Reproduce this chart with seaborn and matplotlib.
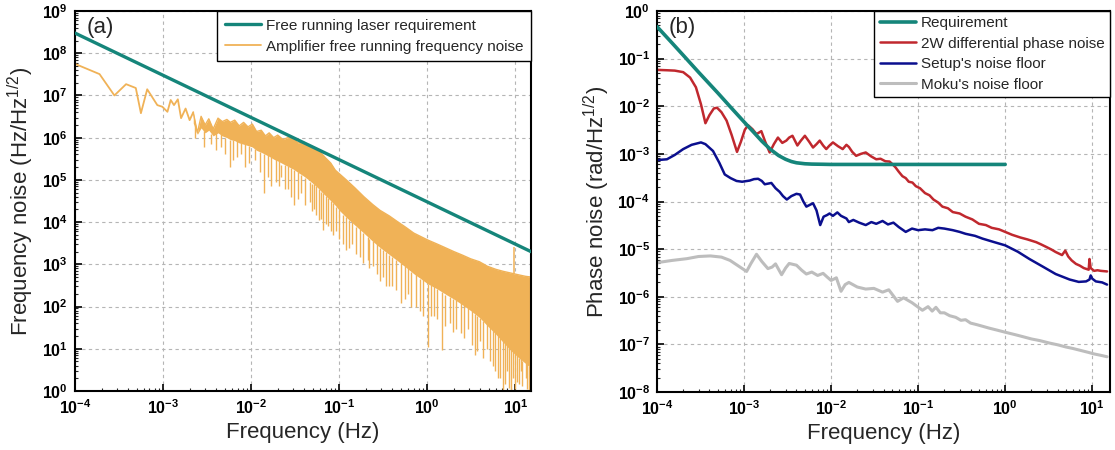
import numpy as np
import pandas as pd
import matplotlib
matplotlib.use("Agg")
import matplotlib.pyplot as plt
import seaborn as sns
from matplotlib.ticker import LogLocator, FuncFormatter, NullFormatter

# ---------------- data ----------------
# panel (a): free running laser requirement
req_a_f = [1e-4, 15.0]
req_a_v = [3.0e8, 2.0e3]

# panel (a): amplifier frequency noise, low-frequency part (single trace)
amp_low_f = [1.0e-4, 1.9e-4, 2.8e-4, 3.8e-4, 4.9e-4, 5.6e-4, 6.6e-4, 8.6e-4, 9.8e-4,
             1.12e-3, 1.22e-3, 1.33e-3, 1.47e-3, 1.6e-3, 1.8e-3, 2.0e-3, 2.2e-3]
amp_low_v = [5.6e7, 3.2e7, 1.0e7, 1.85e7, 1.5e7, 3.8e6, 1.4e7, 5.9e6, 5.4e6,
             4.1e6, 7.8e6, 5.9e6, 8.1e6, 2.9e6, 4.9e6, 2.6e6, 4.0e6]

# panel (a): dense part of the amplifier noise (upper edge / lower edge of the band)
amp_band_f = [2.2e-3, 2.45e-3, 2.7e-3, 3.0e-3, 3.3e-3, 3.7e-3, 4.2e-3, 4.7e-3, 5.3e-3, 5.8e-3,
              6.5e-3, 7.3e-3, 8.2e-3, 9.2e-3, 1.03e-2, 1.15e-2, 1.3e-2, 1.45e-2, 1.6e-2, 1.8e-2,
              2.0e-2, 2.3e-2, 2.6e-2, 3.0e-2, 3.4e-2, 3.9e-2, 4.5e-2, 5.1e-2, 5.7e-2, 6.3e-2,
              7.0e-2, 8.0e-2, 9.0e-2, 0.1, 0.12, 0.15, 0.19, 0.24, 0.29, 0.37,
              0.45, 0.57, 0.7, 0.85, 1.0, 1.3, 1.65, 2.0, 2.5, 3.1,
              3.9, 4.8, 6.0, 7.3, 8.9, 11.0, 13.0, 15.0]
amp_band_hi = [4.0e6, 1.3e6, 3.2e6, 2.0e6, 2.8e6, 1.6e6, 2.9e6, 2.4e6, 2.7e6, 2.3e6,
               2.6e6, 1.9e6, 2.3e6, 1.8e6, 2.1e6, 1.4e6, 1.5e6, 1.1e6, 1.3e6, 1.0e6,
               1.15e6, 9.0e5, 1.0e6, 9.5e5, 7.5e5, 8.0e5, 6.2e5, 6.0e5, 5.0e5, 4.2e5,
               3.3e5, 2.5e5, 1.7e5, 1.4e5, 1.0e5, 6.5e4, 4.0e4, 2.6e4, 1.9e4, 1.4e4,
               1.05e4, 7.5e3, 5.5e3, 4.5e3, 3.8e3, 3.0e3, 2.4e3, 2.0e3, 1.65e3, 1.35e3,
               1.15e3, 9.0e2, 7.6e2, 6.8e2, 6.2e2, 5.6e2, 5.2e2, 5.0e2]
amp_band_lo = [2.2e6, 1.2e6, 1.7e6, 1.3e6, 1.5e6, 1.1e6, 1.3e6, 1.1e6, 1.0e6, 9.0e5,
               8.5e5, 7.5e5, 7.0e5, 6.5e5, 6.0e5, 5.0e5, 4.5e5, 4.0e5, 3.6e5, 3.1e5,
               2.8e5, 2.4e5, 2.1e5, 1.8e5, 1.5e5, 1.25e5, 1.0e5, 8.0e4, 6.5e4, 5.2e4,
               4.2e4, 3.2e4, 2.5e4, 1.9e4, 1.3e4, 8.5e3, 5.5e3, 3.5e3, 2.5e3, 1.7e3,
               1.25e3, 8.5e2, 6.0e2, 4.5e2, 3.5e2, 2.6e2, 1.9e2, 1.5e2, 1.1e2, 80,
               55, 35, 22, 14, 9, 6, 4.5, 3.5]

# panel (a): downward spikes of the amplifier noise (frequency, spike start, spike bottom)
spike_f = [4.5e-3, 5.8e-3, 7.6e-3, 1.1e-2, 1.4e-2, 1.7e-2, 2.2e-2, 2.6e-2, 3.1e-2, 3.7e-2,
           4.6e-2, 5.2e-2, 5.9e-2, 6.6e-2, 7.5e-2, 8.5e-2, 0.1, 0.12, 0.14, 0.17,
           0.21, 0.24, 0.29, 0.34, 0.4, 0.5, 0.6, 0.75, 0.9, 1.02,
           1.2, 1.45, 1.8, 2.1, 2.4, 2.9, 3.5, 4.0, 4.7, 5.5,
           6.3, 7.2, 8.0, 9.0, 10.5, 11.5, 13.0, 14.5,
           2.3e-3, 2.9e-3, 3.5e-3, 4.0e-3, 5.0e-3, 6.2e-3, 6.9e-3, 8.5e-3, 9.5e-3, 1.25e-2,
           1.55e-2, 1.9e-2, 2.05e-2, 2.4e-2, 2.8e-2, 3.4e-2, 4.1e-2, 4.9e-2, 5.5e-2, 6.2e-2,
           7.0e-2, 8.0e-2, 9.2e-2, 0.11, 0.13, 0.155, 0.185, 0.22, 0.265, 0.31,
           0.37, 0.44, 0.55, 0.66, 0.83, 1.1, 1.3, 1.6, 1.95, 2.6,
           3.2, 3.7, 4.3, 5.1, 5.9, 6.7, 7.6, 8.5, 9.3, 10.0,
           11.0, 12.0, 13.5, 14.2]
spike_top = [1.2e6, 9e5, 7.5e5, 5.5e5, 4e5, 3.4e5, 2.3e5, 2.1e5, 1.7e5, 1.3e5,
             9e4, 8e4, 6e4, 5e4, 3.8e4, 2.8e4, 1.9e4, 1.3e4, 1e4, 7e3,
             4.5e3, 3.5e3, 2.5e3, 2e3, 1.5e3, 1.1e3, 8e2, 6e2, 4.5e2, 3.5e2,
             3e2, 2.2e2, 1.7e2, 1.4e2, 1.2e2, 90, 65, 55, 40, 30,
             24, 16, 12, 10, 7, 6, 4.5, 3.5,
             2e6, 1.4e6, 1.2e6, 1.3e6, 1.0e6, 9e5, 8.5e5, 7e5, 6.5e5, 4.5e5,
             3.8e5, 3.1e5, 2.8e5, 2.3e5, 1.9e5, 1.5e5, 1.1e5, 8e4, 7e4, 5.2e4,
             4.2e4, 3.2e4, 2.3e4, 1.5e4, 1.1e4, 7.5e3, 5.5e3, 4e3, 3e3, 2.2e3,
             1.7e3, 1.3e3, 9e2, 6.5e2, 4.5e2, 3.2e2, 2.6e2, 1.9e2, 1.5e2, 1.1e2,
             80, 60, 45, 35, 25, 18, 14, 11, 9, 8,
             6, 5, 4.5, 4]
spike_min = [6e5, 2e5, 4e5, 3e5, 4.8e4, 7e4, 1.2e5, 6e4, 2.6e4, 5e4,
             3e4, 2e4, 1.1e4, 6.5e3, 8e3, 5e3, 4e3, 2.2e3, 3e3, 1.5e3,
             1.3e3, 9e2, 4e2, 3e2, 3e2, 1.2e2, 2e2, 1e2, 60, 11,
             60, 9.4, 40, 30, 24, 30, 7, 15, 10, 4,
             2, 1, 3, 1, 1.6, 3, 2, 1,
             1.0e6, 6e5, 7e5, 5e5, 4e5, 3e5, 3.5e5, 2e5, 2.5e5, 1.5e5,
             1.2e5, 9e4, 7e4, 6e4, 4e4, 3.5e4, 2.5e4, 1.8e4, 1.5e4, 1.2e4,
             9e3, 6e3, 6e3, 3e3, 2.5e3, 1.8e3, 1.1e3, 8e2, 6e2, 5e2,
             3e2, 2.5e2, 1.5e2, 1e2, 80, 60, 50, 35, 25, 18,
             12, 9, 6, 5, 3, 2, 1.5, 1.2, 2, 1.1,
             1.5, 1.3, 1.1, 1.0]
spike_up_f = [9.6]
spike_up_lo = [6.0e2]
spike_up_hi = [2.6e3]

# panel (b): requirement
req_b_f = [1e-4, 1.5e-4, 2e-4, 3e-4, 5e-4, 7e-4, 1e-3, 1.3e-3, 1.6e-3, 2e-3, 2.5e-3,
           3e-3, 3.5e-3, 4e-3, 5e-3, 6e-3, 8e-3, 1e-2, 1.0]
req_b_v = [0.47, 0.21, 0.118, 0.052, 0.019, 9.6e-3, 4.7e-3, 2.8e-3, 1.85e-3, 1.25e-3, 9.2e-4,
           7.7e-4, 6.9e-4, 6.5e-4, 6.2e-4, 6.1e-4, 6.05e-4, 6.0e-4, 6.0e-4]

# panel (b): 2W differential phase noise
red_f = [1e-4, 1.3e-4, 1.6e-4, 2.0e-4, 2.4e-4, 2.8e-4, 3.2e-4, 3.6e-4, 4.0e-4, 4.5e-4,
         4.9e-4, 5.5e-4, 6.3e-4, 7.2e-4, 8.3e-4, 9.2e-4, 1.02e-3, 1.11e-3, 1.25e-3, 1.39e-3,
         1.58e-3, 1.75e-3, 1.97e-3, 2.2e-3, 2.45e-3, 2.75e-3, 3.06e-3, 3.3e-3, 3.6e-3, 4.1e-3,
         4.5e-3, 5.0e-3, 5.6e-3, 6.2e-3, 6.8e-3, 7.4e-3, 8.1e-3, 8.8e-3, 9.6e-3, 1.05e-2,
         1.2e-2, 1.36e-2, 1.5e-2, 1.6e-2, 1.75e-2, 1.94e-2, 2.2e-2, 2.5e-2, 2.9e-2, 3.3e-2,
         3.7e-2, 4.2e-2, 4.7e-2, 5.1e-2, 5.5e-2, 6.0e-2, 6.6e-2, 7.2e-2, 7.8e-2, 8.6e-2,
         9.4e-2, 0.105, 0.12, 0.135, 0.15, 0.17, 0.19, 0.22, 0.25, 0.3,
         0.35, 0.42, 0.5, 0.6, 0.7, 0.85, 1.0, 1.2, 1.5, 1.8,
         2.27, 2.6, 3.0, 3.4, 3.8, 4.5, 4.9, 5.3, 5.8, 6.5,
         7.2, 8.0, 8.7, 9.1, 9.3, 9.6, 10.5, 11.5, 12.5, 14.8]
red_v = [5.8e-2, 5.7e-2, 5.6e-2, 5.2e-2, 4.0e-2, 2.5e-2, 1.1e-2, 4.4e-3, 6.5e-3, 9.0e-3,
         9.3e-3, 7.5e-3, 5.0e-3, 2.5e-3, 1.1e-3, 1.8e-3, 3.2e-3, 4.0e-3, 3.3e-3, 2.6e-3,
         3.0e-3, 1.8e-3, 1.07e-3, 1.6e-3, 2.2e-3, 1.7e-3, 1.9e-3, 2.2e-3, 2.4e-3, 1.5e-3,
         1.9e-3, 2.4e-3, 1.8e-3, 1.36e-3, 1.6e-3, 1.9e-3, 1.5e-3, 1.26e-3, 1.5e-3, 1.74e-3,
         1.45e-3, 1.26e-3, 1.55e-3, 1.4e-3, 1.1e-3, 9.1e-4, 1.0e-3, 1.07e-3, 8.8e-4, 7.7e-4,
         7.9e-4, 7.0e-4, 6.9e-4, 6.0e-4, 5.2e-4, 4.2e-4, 3.4e-4, 3.1e-4, 2.6e-4, 2.5e-4,
         2.1e-4, 1.9e-4, 1.5e-4, 1.35e-4, 1.1e-4, 9.5e-5, 7.8e-5, 7.2e-5, 6.0e-5, 5.6e-5,
         4.8e-5, 4.2e-5, 3.4e-5, 3.2e-5, 2.8e-5, 2.6e-5, 2.3e-5, 2.0e-5, 1.75e-5, 1.6e-5,
         1.4e-5, 1.25e-5, 1.1e-5, 9.8e-6, 8.7e-6, 7.5e-6, 9.3e-6, 7.0e-6, 5.8e-6, 4.9e-6,
         4.5e-6, 4.0e-6, 3.8e-6, 3.7e-6, 6.2e-6, 4.0e-6, 3.5e-6, 3.6e-6, 3.5e-6, 3.4e-6]

# panel (b): setup's noise floor
blue_f = [1e-4, 1.3e-4, 1.6e-4, 2.0e-4, 2.5e-4, 3.2e-4, 3.6e-4, 4.4e-4, 5.2e-4, 6.0e-4,
          7.0e-4, 8.2e-4, 9.5e-4, 1.16e-3, 1.3e-3, 1.45e-3, 1.6e-3, 1.73e-3, 2.06e-3, 2.3e-3,
          2.56e-3, 2.8e-3, 3.1e-3, 3.5e-3, 4.0e-3, 4.4e-3, 4.8e-3, 5.2e-3, 5.7e-3, 6.2e-3,
          6.8e-3, 7.5e-3, 8.2e-3, 9.0e-3, 9.6e-3, 1.05e-2, 1.18e-2, 1.3e-2, 1.5e-2, 1.6e-2,
          1.8e-2, 2.1e-2, 2.5e-2, 2.9e-2, 3.3e-2, 3.9e-2, 4.5e-2, 5.2e-2, 6.0e-2, 7.2e-2,
          8.5e-2, 0.1, 0.12, 0.146, 0.17, 0.2, 0.25, 0.3, 0.35, 0.45,
          0.55, 0.75, 1.0, 1.4, 1.9, 2.7, 3.8, 5.5, 7.0, 8.5,
          9.3, 9.6, 10.0, 11.0, 13.0, 14.8]
blue_v = [7.4e-4, 7.7e-4, 9.5e-4, 1.26e-3, 1.55e-3, 1.74e-3, 1.6e-3, 1.15e-3, 6.5e-4, 3.7e-4,
          3.1e-4, 2.7e-4, 2.6e-4, 2.75e-4, 2.95e-4, 3.0e-4, 2.7e-4, 2.3e-4, 2.45e-4, 1.9e-4,
          1.6e-4, 1.3e-4, 1.1e-4, 1.3e-4, 1.45e-4, 1.4e-4, 1.0e-4, 7.8e-5, 8.5e-5, 9.2e-5,
          6.5e-5, 3.2e-5, 4.8e-5, 5.2e-5, 5.6e-5, 5.0e-5, 5.9e-5, 5.0e-5, 4.4e-5, 3.7e-5,
          4.1e-5, 3.6e-5, 3.2e-5, 3.7e-5, 3.4e-5, 3.9e-5, 3.3e-5, 3.6e-5, 2.9e-5, 2.3e-5,
          2.7e-5, 2.5e-5, 2.6e-5, 2.5e-5, 2.8e-5, 2.7e-5, 2.5e-5, 2.3e-5, 2.1e-5, 1.9e-5,
          1.66e-5, 1.4e-5, 1.2e-5, 8.8e-6, 6.2e-6, 4.3e-6, 3.0e-6, 2.3e-6, 2.05e-6, 2.1e-6,
          2.3e-6, 2.8e-6, 2.4e-6, 2.1e-6, 2.0e-6, 1.8e-6]

# panel (b): Moku's noise floor
gray_f = [1e-4, 1.5e-4, 2.2e-4, 3.0e-4, 4.1e-4, 5.5e-4, 6.9e-4, 8.5e-4, 1.07e-3, 1.2e-3,
          1.39e-3, 1.6e-3, 1.88e-3, 2.1e-3, 2.3e-3, 2.7e-3, 3.0e-3, 3.3e-3, 4.0e-3, 4.6e-3,
          5.2e-3, 6.0e-3, 7.0e-3, 8.1e-3, 9.0e-3, 1.0e-2, 1.15e-2, 1.3e-2, 1.45e-2, 1.6e-2,
          2.0e-2, 2.5e-2, 3.1e-2, 3.9e-2, 4.6e-2, 5.8e-2, 6.8e-2, 8.5e-2, 0.112, 0.13,
          0.145, 0.16, 0.18, 0.2, 0.23, 0.27, 0.31, 0.35, 0.4, 0.47,
          0.55, 0.65, 0.8, 1.0, 1.3, 1.6, 2.0, 2.5, 3.2, 4.0,
          5.0, 6.0, 7.5, 9.0, 10.5, 12.5, 14.8]
gray_v = [5.2e-6, 5.8e-6, 6.3e-6, 7.0e-6, 7.2e-6, 6.8e-6, 5.8e-6, 4.5e-6, 3.4e-6, 5.0e-6,
          7.8e-6, 5.5e-6, 3.9e-6, 4.2e-6, 4.9e-6, 2.9e-6, 4.0e-6, 5.0e-6, 4.6e-6, 3.6e-6,
          3.0e-6, 3.3e-6, 2.8e-6, 3.1e-6, 2.6e-6, 2.2e-6, 2.5e-6, 1.3e-6, 1.8e-6, 2.0e-6,
          1.6e-6, 1.45e-6, 1.5e-6, 1.25e-6, 1.4e-6, 8.0e-7, 9.5e-7, 7.5e-7, 5.2e-7, 6.2e-7,
          5.0e-7, 6.0e-7, 4.6e-7, 4.6e-7, 4.0e-7, 3.7e-7, 3.2e-7, 3.3e-7, 2.8e-7, 2.6e-7,
          2.4e-7, 2.2e-7, 2.0e-7, 1.8e-7, 1.6e-7, 1.45e-7, 1.3e-7, 1.2e-7, 1.07e-7, 9.8e-8,
          8.8e-8, 8.2e-8, 7.4e-8, 6.8e-8, 6.3e-8, 5.9e-8, 5.5e-8]

labels_a = ["Free running laser requirement", "Amplifier free running frequency noise"]
labels_b = ["Requirement", "2W differential phase noise", "Setup's noise floor", "Moku's noise floor"]

# ---------------- style ----------------
sns.set_theme(style="ticks")
plt.rcParams.update({
    "font.family": ["Liberation Sans", "DejaVu Sans"],
    "mathtext.fontset": "custom",
    "mathtext.rm": "Liberation Sans",
    "mathtext.it": "Liberation Sans:italic",
    "mathtext.bf": "Liberation Sans:bold",
    "xtick.direction": "in",
    "ytick.direction": "in",
    "axes.edgecolor": "black",
    "axes.linewidth": 1.5,
})

TEAL = "#15857a"
ORANGE = "#f0b257"
RED = "#c0282e"
BLUE = "#0b0f8e"
GRAY = "#bdbdbd"

fig = plt.figure(figsize=(11.15, 4.5), dpi=100)
axA = fig.add_axes([75 / 1115, 59 / 450, 456 / 1115, 380 / 450])
axB = fig.add_axes([657 / 1115, 58 / 450, 453 / 1115, 381 / 450])

fmt = FuncFormatter(lambda v, p: r"$\mathbf{10^{%d}}$" % int(round(np.log10(v))))


def style_axis(ax, xlim, ylim):
    ax.set_xscale("log")
    ax.set_yscale("log")
    ax.set_xlim(*xlim)
    ax.set_ylim(*ylim)
    for axis in (ax.xaxis, ax.yaxis):
        axis.set_major_locator(LogLocator(base=10, numticks=30))
        axis.set_minor_locator(LogLocator(base=10, subs=np.arange(2, 10), numticks=30))
        axis.set_major_formatter(fmt)
        axis.set_minor_formatter(NullFormatter())
    ax.tick_params(which="major", length=5, width=1.2, labelsize=11.5, colors="black",
                   direction="in", top=False, right=False, pad=5)
    ax.tick_params(which="minor", length=2.5, width=0.8, direction="in", top=False, right=False)
    ax.grid(True, which="major", ls=(0, (3, 3)), color="#b5b5b5", lw=0.8)
    ax.grid(False, which="minor")
    ax.set_axisbelow(True)
    for s in ax.spines.values():
        s.set_visible(True)
        s.set_color("black")
        s.set_linewidth(1.5)


style_axis(axA, (1e-4, 15), (1, 1e9))
style_axis(axB, (1e-4, 16), (1e-8, 1))

# ---------------- panel (a) ----------------
sns.lineplot(x=amp_low_f, y=amp_low_v, ax=axA, color=ORANGE, lw=1.3,
             estimator=None, sort=False, label=labels_a[1], zorder=2)
axA.fill_between(amp_band_f, amp_band_lo, amp_band_hi, color=ORANGE, lw=0, zorder=2)
sns.lineplot(x=amp_band_f, y=amp_band_hi, ax=axA, color=ORANGE, lw=1.0,
             estimator=None, sort=False, zorder=2)
axA.vlines(spike_f, spike_min, spike_top, color=ORANGE, lw=1.0, zorder=2)
axA.vlines(spike_up_f, spike_up_lo, spike_up_hi, color=ORANGE, lw=1.1, zorder=2)
sns.lineplot(x=req_a_f, y=req_a_v, ax=axA, color=TEAL, lw=2.4,
             estimator=None, sort=False, label=labels_a[0], zorder=3)

h, l = axA.get_legend_handles_labels()
order = [l.index(labels_a[0]), l.index(labels_a[1])]
legA = axA.legend([h[i] for i in order], [l[i] for i in order], loc="upper right",
                  borderaxespad=0, frameon=True, fancybox=False, edgecolor="black",
                  framealpha=1, fontsize=11, handlelength=2.4, handletextpad=0.3,
                  labelspacing=0.45, borderpad=0.5)
legA.get_frame().set_linewidth(1.0)
legA.set_zorder(5)

axA.text(0.025, 0.985, "(a)", transform=axA.transAxes, ha="left", va="top", fontsize=16)
axA.set_xlabel("Frequency (Hz)", fontsize=16, labelpad=4)
axA.set_ylabel("Frequency noise (Hz/Hz$^{1/2}$)", fontsize=16, labelpad=4)

# ---------------- panel (b) ----------------
sns.lineplot(x=gray_f, y=gray_v, ax=axB, color=GRAY, lw=2.2, estimator=None, sort=False,
             label=labels_b[3], zorder=2)
sns.lineplot(x=blue_f, y=blue_v, ax=axB, color=BLUE, lw=1.8, estimator=None, sort=False,
             label=labels_b[2], zorder=2)
sns.lineplot(x=red_f, y=red_v, ax=axB, color=RED, lw=1.8, estimator=None, sort=False,
             label=labels_b[1], zorder=2)
sns.lineplot(x=req_b_f, y=req_b_v, ax=axB, color=TEAL, lw=2.6, estimator=None, sort=False,
             label=labels_b[0], zorder=3)

h, l = axB.get_legend_handles_labels()
order = [l.index(t) for t in labels_b]
legB = axB.legend([h[i] for i in order], [l[i] for i in order], loc="upper right",
                  borderaxespad=0, frameon=True, fancybox=False, edgecolor="black",
                  framealpha=1, fontsize=11, handlelength=2.4, handletextpad=0.3,
                  labelspacing=0.42, borderpad=0.35)
legB.get_frame().set_linewidth(1.0)
legB.set_zorder(5)

axB.text(0.025, 0.985, "(b)", transform=axB.transAxes, ha="left", va="top", fontsize=16)
axB.set_xlabel("Frequency (Hz)", fontsize=16, labelpad=4)
axB.set_ylabel("Phase noise (rad/Hz$^{1/2}$)", fontsize=16, labelpad=4)

fig.savefig("out.png", dpi=100)
